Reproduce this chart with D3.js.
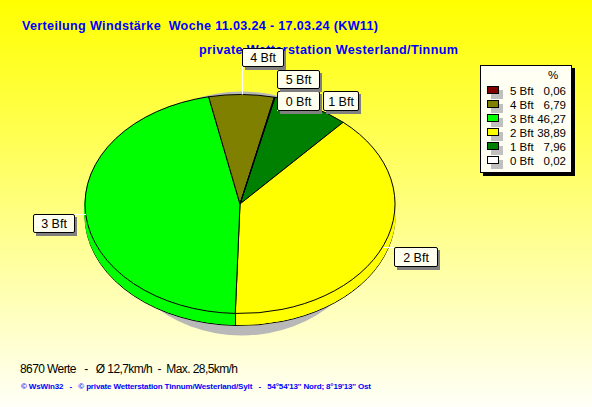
<!DOCTYPE html>
<html><head><meta charset="utf-8">
<script src="https://cdn.jsdelivr.net/npm/d3@7"></script>
<style>html,body{margin:0;padding:0;background:#fff}svg{display:block}text{font-family:"Liberation Sans",Arial,sans-serif}</style>
</head><body><svg id="c" width="592" height="407"></svg>
<script>
const categories=["0 Bft","1 Bft","2 Bft","3 Bft","4 Bft","5 Bft"];
const shares=[0.02,7.96,38.89,46.27,6.79,0.06];
const shareLabels=["0,02","7,96","38,89","46,27","6,79","0,06"];
const colours=["#ffffff","#008000","#ffff00","#00ff00","#808000","#800000"];
const titleLines=["Verteilung Windstärke  Woche 11.03.24 - 17.03.24 (KW11)","private Wetterstation Westerland/Tinnum"];
const footerLines=["8670 Werte   -   Ø 12,7km/h  -  Max. 28,5km/h","© WsWin32   -   © private Wetterstation Tinnum/Westerland/Sylt   -   54°54'13'' Nord; 8°19'13'' Ost"];
const calloutBoxes={"0 Bft":[277,91,42,20],"1 Bft":[323,91,35,20],"2 Bft":[394,247,43,20],"3 Bft":[33,214,41,19],"4 Bft":[242,48,41,19],"5 Bft":[277,70,42,19]};

const svg=d3.select("#c");
const defs=svg.append("defs");
const g=defs.append("linearGradient").attr("id","bg").attr("x1",0).attr("x2",0).attr("y1",0).attr("y2",1);
g.append("stop").attr("offset",0).attr("stop-color","#ffff00");
g.append("stop").attr("offset",1).attr("stop-color","#fffff8");
svg.append("rect").attr("width",592).attr("height",407).attr("fill","url(#bg)");

const T=svg.append("g").style("font-weight","bold").style("font-size","12.6px").attr("fill","#0000ff");
T.append("text").attr("x",22).attr("y",30).style("white-space","pre").attr("textLength",356).text(titleLines[0]);
T.append("text").attr("x",199).attr("y",54).attr("textLength",259).text(titleLines[1]);

// pie
const cx=240,cy=204,rx=155,ry=109.5,depth=12;
const k=ry/rx;
const pie=d3.pie().sort(null).value(d=>d).startAngle(13*Math.PI/180).endAngle((360+13)*Math.PI/180);
const arcs=pie(shares);
const arc=d3.arc().innerRadius(0).outerRadius(rx);

svg.append("ellipse").attr("cx",242).attr("cy",213.5).attr("rx",135).attr("ry",122).attr("fill","#b8b8b8");

const layer=(off,stroke)=>{
  const l=svg.append("g").attr("transform",`translate(${cx},${cy+off}) scale(1,${k})`);
  l.selectAll("path").data(arcs).join("path")
    .attr("d",arc).attr("fill",(d,i)=>colours[i])
    .attr("stroke",stroke?"#000":(d,i)=>colours[i])
    .attr("stroke-width",1).attr("vector-effect","non-scaling-stroke")
    .attr("stroke-linejoin","round");
};
layer(depth,true);
for(const o of d3.range(depth-1,0,-1)) layer(o,false);
// vertical side edges at visible front boundaries
arcs.forEach(a=>{
  const c=Math.cos(a.endAngle), s=Math.sin(a.endAngle);
  if(c<0){
    const x=Math.round(cx+rx*s)+.5, y=cy-ry*c;
    svg.append("line").attr("x1",x).attr("x2",x).attr("y1",y).attr("y2",y+depth).attr("stroke","#000");
  }
});
layer(0,true);

// callout leaders (white), from the box to the rim of the slice
const anchorKind={"0 Bft":"v","4 Bft":"v","3 Bft":"hr","2 Bft":"hl"};
arcs.forEach((a,i)=>{
  const name=categories[i], b=calloutBoxes[name], kind=anchorKind[name];
  if(!kind) return;
  const mid=(a.startAngle+a.endAngle)/2;
  const px=cx+rx*Math.sin(mid), py=cy-ry*Math.cos(mid);
  const pts= kind==="v" ? [[b[0]+.5,b[1]+.5],[b[0]+.5,Math.max(py,b[1]+b[3])]]
    : kind==="hr" ? [[b[0]+b[2],b[1]+.5],[86,b[1]+.5]]
    : [[b[0],b[1]+.5],[Math.min(px,b[0]),b[1]+.5]];
  svg.append("path").attr("d",d3.line()(pts)).attr("stroke","#fff").attr("fill","none");
});
["2 Bft","3 Bft","1 Bft","0 Bft","5 Bft","4 Bft"].forEach(c=>{
  const b=calloutBoxes[c];
  svg.append("rect").attr("x",b[0]+3).attr("y",b[1]+3).attr("width",b[2]).attr("height",b[3]).attr("fill","#808080");
  svg.append("rect").attr("x",b[0]+.5).attr("y",b[1]+.5).attr("width",b[2]).attr("height",b[3]-1).attr("rx",1.5)
    .attr("fill","#fffff0").attr("stroke","#000");
  svg.append("text").attr("x",b[0]+b[2]/2+.5).attr("y",b[1]+b[3]/2+4.5).attr("text-anchor","middle").attr("font-size","12.5px").attr("fill","#000").text(c);
});

// legend
const lx=480,ly=65,lw=91,lh=107;
svg.append("rect").attr("x",lx+3).attr("y",ly+3).attr("width",lw+1).attr("height",lh+1).attr("fill","#000");
svg.append("rect").attr("x",lx+.5).attr("y",ly+.5).attr("width",lw).attr("height",lh).attr("fill","#fffff4").attr("stroke","#000");
svg.append("text").attr("x",553).attr("y",79).attr("text-anchor","middle").attr("font-size","11.5px").text("%");
const rowY=d3.scalePoint().domain(d3.range(6)).range([91,161]);
d3.range(6).forEach(r=>{
  const i=5-r,y=rowY(r);
  svg.append("rect").attr("x",491).attr("y",y-1).attr("width",12).attr("height",9).attr("fill","#c0c0c0");
  svg.append("rect").attr("x",487.5).attr("y",y-4.5).attr("width",11).attr("height",7).attr("fill",colours[i]).attr("stroke","#000");
  svg.append("text").attr("x",510).attr("y",y+4).attr("font-size","11.5px").text(categories[i]);
  svg.append("text").attr("x",566).attr("y",y+4).attr("text-anchor","end").attr("font-size","11.5px").text(shareLabels[i]);
});

// footer
svg.append("text").attr("x",20).attr("y",373).attr("font-size","12px").style("white-space","pre").attr("textLength",218).text(footerLines[0]);
svg.append("text").attr("x",21).attr("y",389).attr("font-size","8px").attr("font-weight","bold").attr("fill","#0000ff").style("white-space","pre").attr("textLength",350).text(footerLines[1]);
</script></body></html>
